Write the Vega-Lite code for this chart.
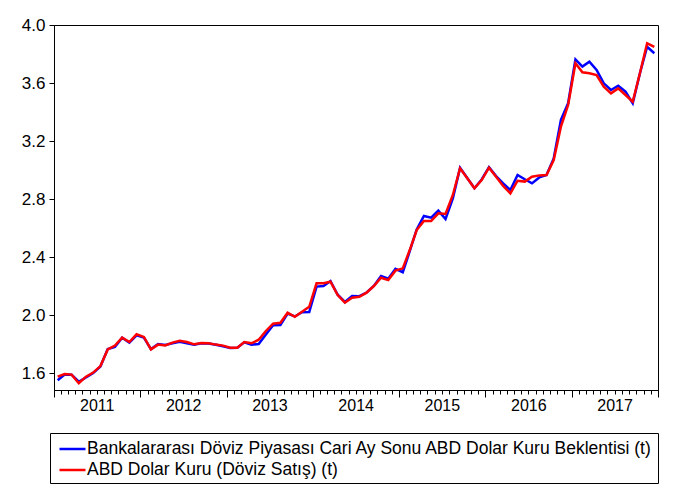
{
  "$schema": "https://vega.github.io/schema/vega-lite/v6.json",
  "width": 604,
  "height": 365,
  "autosize": "none",
  "padding": {"left": 54, "top": 25, "right": 18, "bottom": 106},
  "background": "white",
  "config": {
    "font": "Liberation Sans",
    "view": {"stroke": "black", "strokeWidth": 1},
    "axis": {"grid": false, "domainColor": "black", "tickColor": "black", "labelColor": "black", "title": null},
    "legend": {
      "orient": "none", "legendX": -4, "legendY": 408, "direction": "vertical",
      "strokeColor": "black", "padding": 4.5, "symbolType": "M-1.3,0H1.3", "symbolStrokeWidth": 2.5,
      "symbolSize": 400, "symbolOffset": 6.5, "labelFontSize": 17.5, "labelLimit": 0, "rowPadding": 1, "labelOffset": 3,
      "labelColor": "black"
    }
  },
  "data": {"values": [
    {"date": "2011-01", "b": 1.55, "r": 1.575},
    {"date": "2011-02", "b": 1.59, "r": 1.593},
    {"date": "2011-03", "b": 1.589, "r": 1.589},
    {"date": "2011-04", "b": 1.54, "r": 1.53},
    {"date": "2011-05", "b": 1.57, "r": 1.575},
    {"date": "2011-06", "b": 1.60, "r": 1.603},
    {"date": "2011-07", "b": 1.645, "r": 1.648},
    {"date": "2011-08", "b": 1.765, "r": 1.763},
    {"date": "2011-09", "b": 1.78, "r": 1.79},
    {"date": "2011-10", "b": 1.844, "r": 1.844},
    {"date": "2011-11", "b": 1.81, "r": 1.814},
    {"date": "2011-12", "b": 1.86, "r": 1.867},
    {"date": "2012-01", "b": 1.845, "r": 1.849},
    {"date": "2012-02", "b": 1.765, "r": 1.763},
    {"date": "2012-03", "b": 1.80, "r": 1.796},
    {"date": "2012-04", "b": 1.793, "r": 1.79},
    {"date": "2012-05", "b": 1.805, "r": 1.81},
    {"date": "2012-06", "b": 1.815, "r": 1.823},
    {"date": "2012-07", "b": 1.805, "r": 1.814},
    {"date": "2012-08", "b": 1.795, "r": 1.798},
    {"date": "2012-09", "b": 1.805, "r": 1.807},
    {"date": "2012-10", "b": 1.803, "r": 1.805},
    {"date": "2012-11", "b": 1.795, "r": 1.796},
    {"date": "2012-12", "b": 1.785, "r": 1.789},
    {"date": "2013-01", "b": 1.772, "r": 1.775},
    {"date": "2013-02", "b": 1.775, "r": 1.775},
    {"date": "2013-03", "b": 1.812, "r": 1.814},
    {"date": "2013-04", "b": 1.796, "r": 1.805},
    {"date": "2013-05", "b": 1.80, "r": 1.83},
    {"date": "2013-06", "b": 1.865, "r": 1.89},
    {"date": "2013-07", "b": 1.93, "r": 1.94},
    {"date": "2013-08", "b": 1.931, "r": 1.947},
    {"date": "2013-09", "b": 2.01, "r": 2.016},
    {"date": "2013-10", "b": 1.99, "r": 1.988},
    {"date": "2013-11", "b": 2.02, "r": 2.023},
    {"date": "2013-12", "b": 2.021, "r": 2.057},
    {"date": "2014-01", "b": 2.196, "r": 2.219},
    {"date": "2014-02", "b": 2.20, "r": 2.219},
    {"date": "2014-03", "b": 2.234, "r": 2.23},
    {"date": "2014-04", "b": 2.14, "r": 2.138},
    {"date": "2014-05", "b": 2.09, "r": 2.085},
    {"date": "2014-06", "b": 2.131, "r": 2.119},
    {"date": "2014-07", "b": 2.13, "r": 2.126},
    {"date": "2014-08", "b": 2.155, "r": 2.154},
    {"date": "2014-09", "b": 2.20, "r": 2.20},
    {"date": "2014-10", "b": 2.269, "r": 2.257},
    {"date": "2014-11", "b": 2.25, "r": 2.241},
    {"date": "2014-12", "b": 2.318, "r": 2.306},
    {"date": "2015-01", "b": 2.295, "r": 2.322},
    {"date": "2015-02", "b": 2.44, "r": 2.448},
    {"date": "2015-03", "b": 2.59, "r": 2.586},
    {"date": "2015-04", "b": 2.683, "r": 2.648},
    {"date": "2015-05", "b": 2.671, "r": 2.648},
    {"date": "2015-06", "b": 2.72, "r": 2.701},
    {"date": "2015-07", "b": 2.662, "r": 2.697},
    {"date": "2015-08", "b": 2.805, "r": 2.828},
    {"date": "2015-09", "b": 3.015, "r": 3.012},
    {"date": "2015-10", "b": 2.945, "r": 2.943},
    {"date": "2015-11", "b": 2.874, "r": 2.874},
    {"date": "2015-12", "b": 2.935, "r": 2.931},
    {"date": "2016-01", "b": 3.02, "r": 3.016},
    {"date": "2016-02", "b": 2.958, "r": 2.954},
    {"date": "2016-03", "b": 2.908, "r": 2.89},
    {"date": "2016-04", "b": 2.862, "r": 2.839},
    {"date": "2016-05", "b": 2.966, "r": 2.926},
    {"date": "2016-06", "b": 2.936, "r": 2.92},
    {"date": "2016-07", "b": 2.908, "r": 2.954},
    {"date": "2016-08", "b": 2.949, "r": 2.963},
    {"date": "2016-09", "b": 2.966, "r": 2.966},
    {"date": "2016-10", "b": 3.08, "r": 3.069},
    {"date": "2016-11", "b": 3.345, "r": 3.299},
    {"date": "2016-12", "b": 3.46, "r": 3.448},
    {"date": "2017-01", "b": 3.763, "r": 3.736},
    {"date": "2017-02", "b": 3.713, "r": 3.674},
    {"date": "2017-03", "b": 3.747, "r": 3.667},
    {"date": "2017-04", "b": 3.69, "r": 3.655},
    {"date": "2017-05", "b": 3.598, "r": 3.575},
    {"date": "2017-06", "b": 3.552, "r": 3.529},
    {"date": "2017-07", "b": 3.581, "r": 3.563},
    {"date": "2017-08", "b": 3.54, "r": 3.517},
    {"date": "2017-09", "b": 3.46, "r": 3.471},
    {"date": "2017-10", "b": 3.667, "r": 3.667},
    {"date": "2017-11", "b": 3.85, "r": 3.874},
    {"date": "2017-12", "b": 3.805, "r": 3.85}
  ]},
  "encoding": {
    "x": {
      "field": "date", "type": "temporal", "timeUnit": "utcyearmonth", "bandPosition": 0.5,
      "scale": {"type": "utc", "domain": [{"year": 2011, "month": 1, "date": 1, "utc": true}, {"year": 2018, "month": 1, "date": 1, "utc": true}]},
      "axis": {
        "title": null,
        "tickCount": {"interval": "month", "step": 1},
        "labelExpr": "utcmonth(datum.value) == 6 ? '' + utcyear(datum.value) : ''",
        "tickSize": {"condition": {"test": "utcmonth(datum.value) == 0", "value": 7}, "value": 4},
        "labelPadding": 3, "labelFontSize": 16, "labelOverlap": false, "labelFlush": false, "labelBound": false
      }
    }
  },
  "layer": [
    {
      "mark": {"type": "line", "strokeWidth": 2.5},
      "encoding": {
        "y": {
          "field": "b", "type": "quantitative",
          "scale": {"domain": [1.483, 4.0], "nice": false, "zero": false},
          "axis": {"title": null, "values": [1.6, 2.0, 2.4, 2.8, 3.2, 3.6, 4.0], "format": ".1f", "tickSize": 5, "labelPadding": 4, "labelFontSize": 17}
        },
        "color": {
          "datum": "Bankalararası Döviz Piyasası Cari Ay Sonu ABD Dolar Kuru Beklentisi (t)",
          "scale": {"domain": ["Bankalararası Döviz Piyasası Cari Ay Sonu ABD Dolar Kuru Beklentisi (t)", "ABD Dolar Kuru (Döviz Satış) (t)"], "range": ["#0000ff", "#ff0000"]},
          "legend": {"title": null}
        }
      }
    },
    {
      "mark": {"type": "line", "strokeWidth": 2.5},
      "encoding": {
        "y": {"field": "r", "type": "quantitative"},
        "color": {"datum": "ABD Dolar Kuru (Döviz Satış) (t)"}
      }
    }
  ]
}
